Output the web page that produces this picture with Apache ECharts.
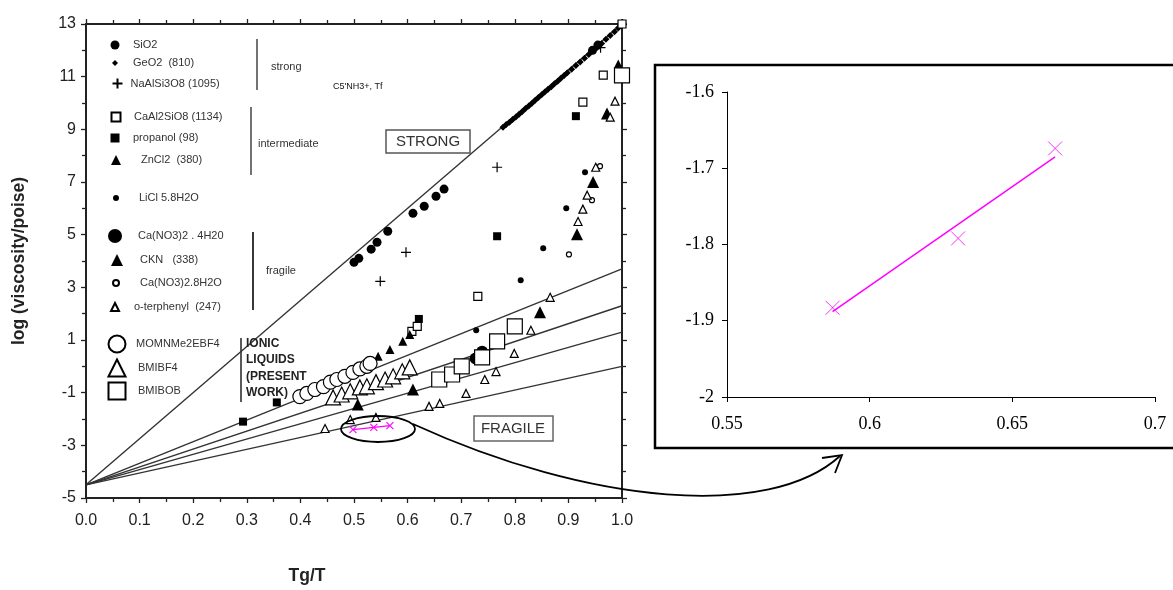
<!DOCTYPE html>
<html><head><meta charset="utf-8">
<script src="https://cdn.jsdelivr.net/npm/echarts@6/dist/echarts.min.js"></script>
<style>html,body{margin:0;padding:0;background:#fff;}#c{width:1173px;height:590px;}</style>
</head><body><div id="c"></div>
<script>
// ---------- data ----------
const sio2 = [[0.500,3.95],[0.509,4.10],[0.532,4.45],[0.543,4.71],[0.563,5.13],[0.610,5.81],[0.631,6.08],[0.653,6.46],[0.668,6.73],[0.945,12.0],[0.955,12.2]];
const geo2 = [[0.778,9.08],[0.784,9.18],[0.790,9.27],[0.796,9.37],[0.802,9.47],[0.808,9.57],[0.814,9.68],[0.820,9.79],[0.826,9.89],[0.832,9.99],[0.838,10.10],[0.844,10.21],[0.850,10.31],[0.856,10.42],[0.862,10.52],[0.868,10.62],[0.874,10.73],[0.880,10.83],[0.886,10.94],[0.892,11.04],[0.898,11.15],[0.906,11.28],[0.914,11.42],[0.922,11.56],[0.930,11.70],[0.938,11.84],[0.946,11.98],[0.954,12.12],[0.962,12.26],[0.970,12.42],[0.978,12.56],[0.986,12.71],[0.993,12.85],[1.000,13.00]];
const naalsi = [[0.549,3.23],[0.597,4.33],[0.767,7.56],[0.960,12.1],[1.000,13.0]];
const caal2 = [[0.608,1.33],[0.618,1.52],[0.731,2.66],[0.927,10.03],[0.965,11.06],[1.000,13.0]];
const propanol = [[0.293,-2.10],[0.356,-1.37],[0.621,1.80],[0.767,4.94],[0.914,9.50]];
const zncl2 = [[0.545,0.38],[0.567,0.64],[0.591,0.95],[0.604,1.21],[0.993,11.48]];
const licl = [[0.728,1.37],[0.811,3.27],[0.853,4.48],[0.896,6.00],[0.931,7.37]];
const ca4h2o = [[0.727,0.30],[0.739,0.55]];
const ckn = [[0.507,-1.45],[0.610,-0.88],[0.847,2.05],[0.916,5.02],[0.946,7.00],[0.972,9.60]];
const ca8h2o = [[0.901,4.25],[0.944,6.31],[0.959,7.60]];
const oterph = [[0.446,-2.36],[0.493,-2.02],[0.541,-1.94],[0.640,-1.52],[0.660,-1.41],[0.709,-1.03],[0.744,-0.50],[0.765,-0.20],[0.799,0.49],[0.830,1.37],[0.866,2.62],[0.918,5.50],[0.927,5.97],[0.935,6.50],[0.951,7.56],[0.978,9.46],[0.987,10.07]];
const momn = [[0.399,-1.15],[0.412,-1.03],[0.427,-0.88],[0.443,-0.77],[0.456,-0.60],[0.468,-0.50],[0.483,-0.38],[0.498,-0.23],[0.511,-0.10],[0.524,0.00],[0.530,0.11]];
const bmibf4 = [[0.461,-1.18],[0.477,-1.07],[0.493,-0.95],[0.511,-0.80],[0.524,-0.76],[0.541,-0.60],[0.558,-0.50],[0.573,-0.38],[0.590,-0.19],[0.604,-0.04]];
const bmibob = [[0.659,-0.50],[0.683,-0.31],[0.701,0.00],[0.739,0.34],[0.767,0.95],[0.800,1.52],[1.000,11.05]];
const magentaMain = [[0.498,-2.40],[0.537,-2.32],[0.567,-2.25]];
// reference lines: common high-T limit and values reached at Tg/T = 1
const lineOrigin = [0, -4.5];
const strongEnd = 13;
const fragileEnds = [3.7, 2.3, 1.3, 0.0];
// inset
const insetX = [0.587, 0.631, 0.665];
const insetY = [-1.883, -1.792, -1.674];
const insetFit = [[0.587, -1.888], [0.665, -1.685]];
// legend labels
const names = ['SiO2','GeO2  (810)','NaAlSi3O8 (1095)','CaAl2SiO8 (1134)','propanol (98)','ZnCl2  (380)','LiCl 5.8H2O','Ca(NO3)2 . 4H20','CKN   (338)','Ca(NO3)2.8H2O','o-terphenyl  (247)','MOMNMe2EBF4','BMIBF4','BMIBOB'];
const seriesData = [sio2,geo2,naalsi,caal2,propanol,zncl2,licl,ca4h2o,ckn,ca8h2o,oterph,momn,bmibf4,bmibob];

// ---------- styles ----------
const PLUS = 'path://M5,0L5,10M0,5L10,5';
const CROSS = 'path://M0,0L10,10M10,0L0,10';
const SANS = 'Liberation Sans, Arial, sans-serif';
const SERIF = 'Liberation Serif, Times New Roman, serif';
const styles = [
  {symbol:'circle', size:9, fill:'#000', lsize:9},
  {symbol:'diamond', size:7, fill:'#000', lsize:6},
  {symbol:PLUS, size:10, fill:'none', lsize:10},
  {symbol:'rect', size:8, fill:'#fff', lsize:9},
  {symbol:'rect', size:8, fill:'#000', lsize:9},
  {symbol:'triangle', size:9, fill:'#000', lsize:10},
  {symbol:'circle', size:6, fill:'#000', lsize:6},
  {symbol:'circle', size:12, fill:'#000', lsize:14},
  {symbol:'triangle', size:12, fill:'#000', lsize:12},
  {symbol:'circle', size:5, fill:'#fff', lsize:6},
  {symbol:'triangle', size:8, fill:'#fff', lsize:8},
  {symbol:'circle', size:14, fill:'#fff', lsize:17},
  {symbol:'triangle', size:15, fill:'#fff', lsize:17},
  {symbol:'rect', size:15, fill:'#fff', lsize:17}
];
const legendCY = [45,63,83,117,138,160,198,236,260,283,307,343,367,390];
const legendIconX = [115,115,115,115,115,116,116,115,117,115,114,116,116,116];
const legendTextX = [133,133,128,133,133,141,139,138,140,139,133,135,137,137];

const chart = echarts.init(document.getElementById('c'));

const series = [];
series.push({type:'line', xAxisIndex:0, yAxisIndex:0, data:[lineOrigin,[1,strongEnd]], symbol:'none', lineStyle:{color:'#333', width:1.4}, z:1, silent:true});
fragileEnds.forEach(v => series.push({type:'line', xAxisIndex:0, yAxisIndex:0, data:[lineOrigin,[1,v]], symbol:'none', lineStyle:{color:'#333', width:1.4}, z:1, silent:true}));
names.forEach((n,i) => {
  const s = styles[i];
  series.push({type:'scatter', name:n, xAxisIndex:0, yAxisIndex:0, data:seriesData[i], symbol:s.symbol, symbolSize:s.size,
    itemStyle:{color:s.fill, borderColor:'#000', borderWidth:s.fill==='#000'?0:1.2, opacity:1}, z:3});
});
series.push({type:'line', xAxisIndex:0, yAxisIndex:0, data:magentaMain, symbol:CROSS, symbolSize:7, showSymbol:true,
  lineStyle:{color:'#ff00ff', width:1.2}, itemStyle:{color:'none', borderColor:'#ff00ff', borderWidth:1.1}, z:4});
series.push({type:'scatter', xAxisIndex:2, yAxisIndex:2, data:insetX.map((x,i)=>[x,insetY[i]]), symbol:CROSS, symbolSize:14,
  itemStyle:{color:'none', borderColor:'#ff00ff', borderWidth:1}, z:4});
series.push({type:'line', xAxisIndex:2, yAxisIndex:2, data:insetFit, symbol:'none', lineStyle:{color:'#ff00ff', width:1.5}, z:3});

const legends = names.map((n,i) => {
  const sz = styles[i].lsize;
  const h = Math.max(sz, 14);
  const pad = Math.max(0, legendTextX[i] - (legendIconX[i] + sz/2) - 5);
  return {data:[n], left:legendIconX[i]-sz/2, top:legendCY[i]-h/2, itemWidth:sz, itemHeight:sz, itemGap:0,
    selectedMode:false, padding:0,
    textStyle:{fontSize:11, color:'#333', fontFamily:SANS, lineHeight:14, padding:[0,0,0,pad]}};
});

const tickStyle = {color:'#222', width:1.3};
const mainX = {type:'value', gridIndex:0, min:0, max:1, interval:0.1,
  axisLine:{show:true, onZero:false, lineStyle:{color:'#222', width:2}},
  axisTick:{show:true, length:5, lineStyle:tickStyle}, minorTick:{show:true, splitNumber:2, length:4, lineStyle:tickStyle},
  splitLine:{show:false}};
const mainY = {type:'value', gridIndex:0, min:-5, max:13, interval:2,
  axisLine:{show:true, onZero:false, lineStyle:{color:'#222', width:2}},
  axisTick:{show:true, length:5, lineStyle:tickStyle}, minorTick:{show:true, splitNumber:2, length:4, lineStyle:tickStyle},
  splitLine:{show:false}};

const option = {
  animation:false,
  backgroundColor:'#fff',
  textStyle:{fontFamily:SANS},
  grid:[{left:86, top:24, width:536, height:475}, {left:727, top:92, width:428, height:305}],
  xAxis:[
    Object.assign({}, mainX, {position:'bottom', name:'Tg/T', nameLocation:'middle', nameGap:69,
      nameTextStyle:{fontSize:17.5, fontWeight:'bold', color:'#222', fontFamily:SANS, padding:[0,94,0,0]},
      axisLabel:{fontSize:16, color:'#222', margin:15, fontFamily:SANS, formatter:v=>v.toFixed(1)}}),
    Object.assign({}, mainX, {position:'top', axisLabel:{show:false}}),
    {type:'value', gridIndex:1, min:0.55, max:0.7, interval:0.05,
      axisLine:{show:true, onZero:false, lineStyle:{color:'#000', width:1}},
      axisTick:{show:true, length:5, lineStyle:{color:'#000'}}, splitLine:{show:false},
      axisLabel:{fontSize:18, color:'#000', fontFamily:SERIF, margin:18, formatter:v=>String(+v.toFixed(2))}}
  ],
  yAxis:[
    Object.assign({}, mainY, {position:'left', name:'log (viscosity/poise)', nameLocation:'middle', nameGap:58,
      nameTextStyle:{fontSize:17.5, fontWeight:'bold', color:'#222', fontFamily:SANS},
      axisLabel:{fontSize:16, color:'#222', margin:10, fontFamily:SANS}}),
    Object.assign({}, mainY, {position:'right', axisLabel:{show:false}}),
    {type:'value', gridIndex:1, min:-2, max:-1.6, interval:0.1,
      axisLine:{show:true, onZero:false, lineStyle:{color:'#000', width:1}},
      axisTick:{show:true, length:5, lineStyle:{color:'#000'}}, splitLine:{show:false},
      axisLabel:{fontSize:18, color:'#000', fontFamily:SERIF, margin:13, formatter:v=>String(+v.toFixed(2))}}
  ],
  legend:legends,
  series:series,
  graphic:[
    {type:'line', shape:{x1:257,y1:39,x2:257,y2:90}, style:{stroke:'#444', lineWidth:1.5}},
    {type:'line', shape:{x1:251,y1:107,x2:251,y2:175}, style:{stroke:'#444', lineWidth:1.5}},
    {type:'line', shape:{x1:253,y1:232,x2:253,y2:310}, style:{stroke:'#222', lineWidth:1.8}},
    {type:'line', shape:{x1:241,y1:338,x2:241,y2:402}, style:{stroke:'#222', lineWidth:1.5}},
    {type:'text', left:271, top:61, style:{text:'strong', fontSize:11, fill:'#333', fontFamily:SANS}},
    {type:'text', left:258, top:138, style:{text:'intermediate', fontSize:11, fill:'#333', fontFamily:SANS}},
    {type:'text', left:266, top:265, style:{text:'fragile', fontSize:11, fill:'#333', fontFamily:SANS}},
    {type:'text', left:246, top:335, style:{text:'IONIC\nLIQUIDS\n(PRESENT\nWORK)', fontSize:12, fontWeight:'bold', lineHeight:16.5, fill:'#222', fontFamily:SANS}, z:5},
    {type:'text', left:333, top:82, style:{text:"C5'NH3+, Tf", fontSize:9, fill:'#111', fontFamily:'Liberation Sans Narrow, Liberation Sans, sans-serif'}},
    {type:'rect', shape:{x:386,y:130,width:84,height:23}, style:{fill:'#fff', stroke:'#555', lineWidth:1.5}, z:5},
    {type:'text', x:428, y:142, style:{text:'STRONG', fontSize:15, fill:'#333', fontFamily:SANS, align:'center', verticalAlign:'middle'}, z:6},
    {type:'rect', shape:{x:474,y:416,width:79,height:25}, style:{fill:'#fff', stroke:'#666', lineWidth:1.5}, z:5},
    {type:'text', x:513, y:429, style:{text:'FRAGILE', fontSize:15, fill:'#333', fontFamily:SANS, align:'center', verticalAlign:'middle'}, z:6},
    {type:'ellipse', shape:{cx:378, cy:429, rx:37, ry:13}, style:{fill:'none', stroke:'#000', lineWidth:1.8}, z:6},
    {type:'bezierCurve', shape:{x1:413,y1:424, x2:840,y2:456, cpx1:590,cpy1:505, cpx2:770,cpy2:520}, style:{fill:'none', stroke:'#000', lineWidth:1.8}, z:6},
    {type:'polyline', shape:{points:[[822,458],[842,455],[835,473]]}, style:{fill:'none', stroke:'#000', lineWidth:1.8}, z:6},
    {type:'rect', shape:{x:655,y:65,width:530,height:383}, style:{fill:'none', stroke:'#000', lineWidth:2.5}, z:6}
  ]
};
chart.setOption(option);
</script>
</body></html>
